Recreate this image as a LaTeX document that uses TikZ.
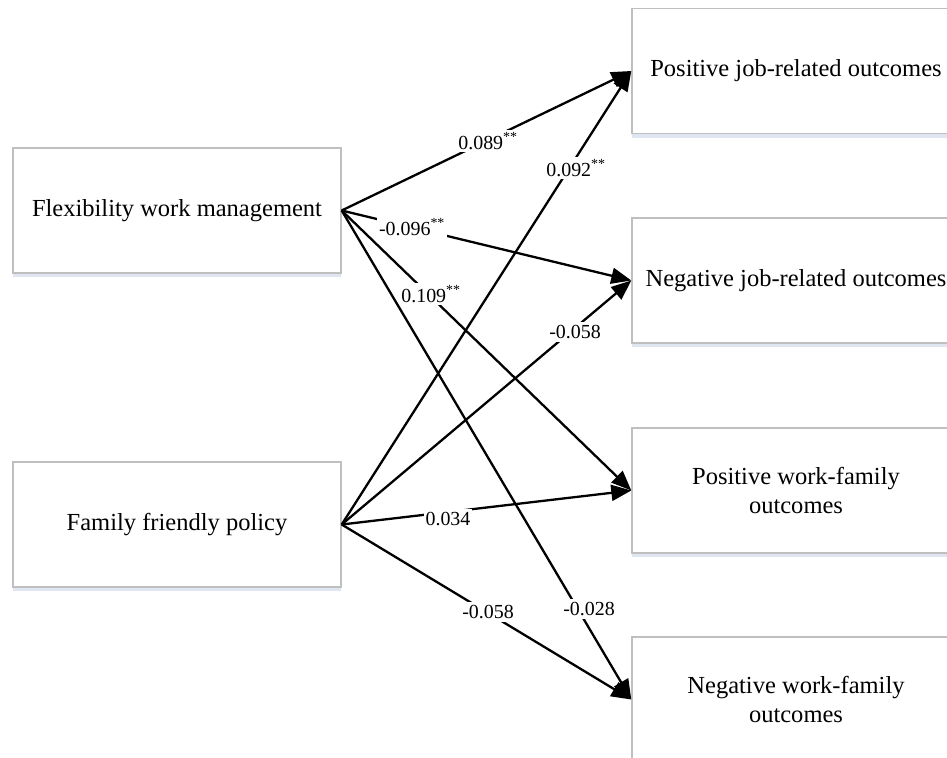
\documentclass[tikz,border=0pt]{standalone}
\usepackage{fontspec}
\setmainfont{Liberation Serif}
\usetikzlibrary{arrows.meta,shadows}
\definecolor{boxgray}{HTML}{BFBFBF}
\definecolor{shadowblue}{HTML}{C9D6EA}
\tikzset{
  box/.style={draw=boxgray, line width=1.4bp, fill=white, minimum width=328bp, minimum height=125bp,
    inner sep=0pt, align=center, font=\fontsize{24.6}{30}\selectfont,
    drop shadow={shadow xshift=0bp, shadow yshift=-4bp, fill=shadowblue, opacity=0.6}},
  link/.style={line width=2.3bp, -{Triangle[length=20bp,width=16bp]}},
  coef/.style={fill=white, inner xsep=2bp, inner ysep=3bp, font=\fontsize{20}{24}\selectfont}
}
\begin{document}
\begin{tikzpicture}[x=1bp,y=-1bp]
\useasboundingbox (0,0) rectangle (947,758);
\node[box] (flex) at (177,210.5) {Flexibility work management};
\node[box] (fam) at (177,524.5) {Family friendly policy};
\node[box] (pj) at (796,71) {Positive job-related outcomes};
\node[box] (nj) at (796,280.5) {Negative job-related outcomes};
\node[box] (pw) at (796,490.5) {Positive work-family\\outcomes};
\node[box] (nw) at (796,699.5) {Negative work-family\\outcomes};

\draw[link] (flex.east) -- (pj.west);
\draw[link] (flex.east) -- (nj.west);
\draw[link] (flex.east) -- (pw.west);
\draw[link] (flex.east) -- (nw.west);
\draw[link] (fam.east) -- (pj.west);
\draw[link] (fam.east) -- (nj.west);
\draw[link] (fam.east) -- (pw.west);
\draw[link] (fam.east) -- (nw.west);

\node[coef] (c1) at (488,141) {0.089\textsuperscript{**}};
\node[coef] (c2) at (576,168) {0.092\textsuperscript{**}};
\node[coef] (c3) at (412,227) {-0.096\textsuperscript{**}};
\node[coef] (c4) at (431,294) {0.109\textsuperscript{**}};
\node[coef] (c5) at (575,332) {-0.058};
\node[coef] (c6) at (448,519) {0.034};
\node[coef] (c7) at (488,612) {-0.058};
\node[coef] (c8) at (589,609) {-0.028};
\end{tikzpicture}
\end{document}
